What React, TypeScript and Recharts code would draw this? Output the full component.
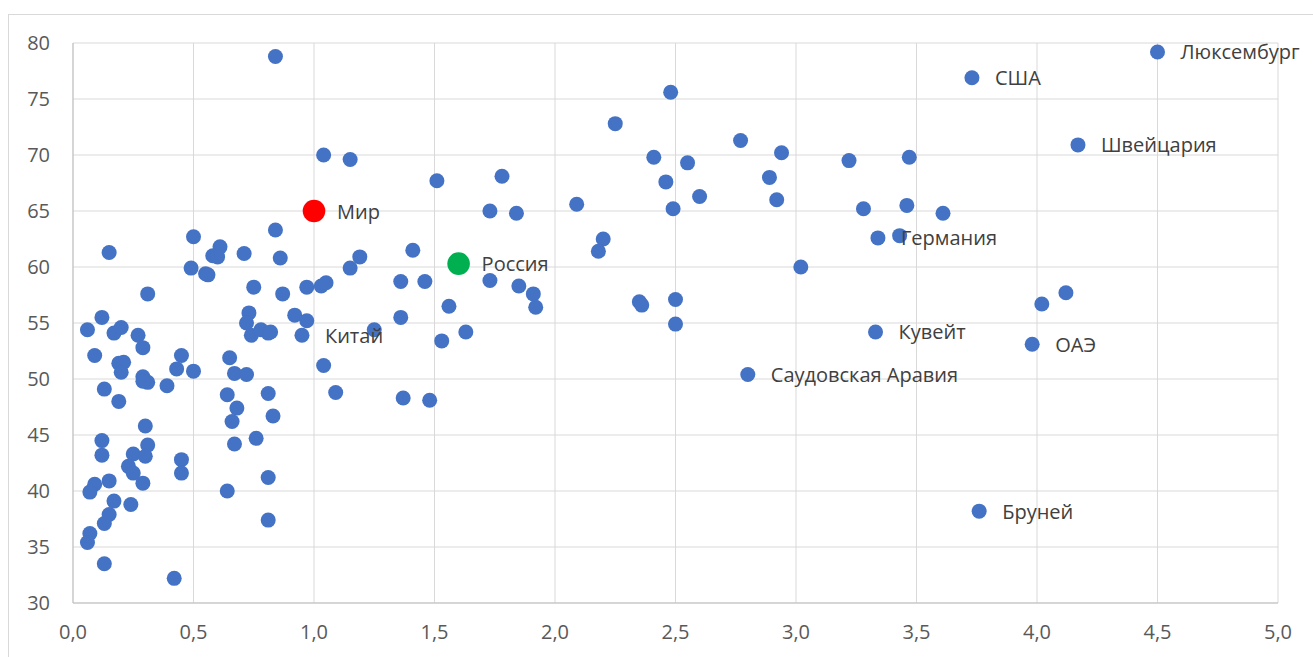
import React from 'react';
import { ScatterChart, Scatter, XAxis, YAxis, CartesianGrid } from 'recharts';

// unlabeled countries, [x, y]
const pointsLow: [number, number][] = [
  [0.15, 61.3], [0.49, 59.9], [0.31, 57.6], [0.12, 55.5], [0.06, 54.4], [0.17, 54.1],
  [0.2, 54.6], [0.27, 53.9], [0.29, 52.8], [0.09, 52.1], [0.19, 51.4], [0.21, 51.5],
  [0.2, 50.6], [0.45, 52.1], [0.43, 50.9], [0.29, 50.2], [0.31, 49.7], [0.29, 49.8],
  [0.13, 49.1], [0.19, 48.0], [0.39, 49.4], [0.42, 32.2], [0.3, 45.8], [0.12, 44.5],
  [0.12, 43.2], [0.25, 43.3], [0.31, 44.1], [0.3, 43.1], [0.23, 42.2], [0.25, 41.6],
  [0.45, 42.8], [0.45, 41.6], [0.09, 40.6], [0.07, 39.9], [0.15, 40.9], [0.29, 40.7],
  [0.17, 39.1], [0.24, 38.8], [0.15, 37.9], [0.13, 37.1], [0.07, 36.2], [0.06, 35.4],
  [0.13, 33.5],
];

const pointsMid: [number, number][] = [
  [0.84, 78.8], [1.04, 70.0], [1.15, 69.6], [0.84, 63.3], [0.5, 62.7], [0.61, 61.8],
  [0.58, 61.0], [0.6, 60.9], [0.71, 61.2], [0.86, 60.8], [1.19, 60.9], [1.41, 61.5],
  [0.55, 59.4], [0.56, 59.3], [1.15, 59.9], [0.75, 58.2], [0.87, 57.6], [0.97, 58.2],
  [1.03, 58.3], [1.05, 58.6], [1.36, 58.7], [1.46, 58.7], [0.73, 55.9], [0.72, 55.0],
  [0.92, 55.7], [0.97, 55.2], [1.36, 55.5], [1.25, 54.4], [0.74, 53.9], [0.78, 54.4],
  [0.81, 54.1], [0.82, 54.2], [0.5, 50.7], [0.65, 51.9], [0.67, 50.5], [0.72, 50.4],
  [0.64, 48.6], [0.81, 48.7], [0.68, 47.4], [0.83, 46.7], [0.66, 46.2], [0.76, 44.7],
  [0.67, 44.2], [0.64, 40.0], [0.81, 41.2], [0.81, 37.4], [1.04, 51.2], [1.09, 48.8],
  [1.37, 48.3], [1.48, 48.1],
];

const pointsHigh: [number, number][] = [
  [1.51, 67.7], [1.53, 53.4], [1.78, 68.1], [1.73, 65.0], [1.84, 64.8], [2.09, 65.6],
  [2.25, 72.8], [2.48, 75.6], [2.41, 69.8], [2.55, 69.3], [2.46, 67.6], [2.49, 65.2],
  [2.6, 66.3], [2.77, 71.3], [2.94, 70.2], [2.89, 68.0], [2.92, 66.0], [3.22, 69.5],
  [3.28, 65.2], [3.02, 60.0], [2.2, 62.5], [2.18, 61.4], [1.73, 58.8], [1.56, 56.5],
  [1.85, 58.3], [1.91, 57.6], [1.92, 56.4], [1.63, 54.2], [2.35, 56.9], [2.36, 56.6],
  [2.5, 57.1], [2.5, 54.9], [3.47, 69.8], [3.46, 65.5], [3.61, 64.8], [3.43, 62.8],
  [4.02, 56.7], [4.12, 57.7],
];

// labeled countries
const labelNames = ['Китай', 'Германия', 'США', 'Люксембург', 'Швейцария', 'Кувейт', 'ОАЭ', 'Бруней', 'Саудовская Аравия'];
const labelX = [0.95, 3.34, 3.73, 4.5, 4.17, 3.33, 3.98, 3.76, 2.8];
const labelY = [53.9, 62.6, 76.9, 79.2, 70.9, 54.2, 53.1, 38.2, 50.4];

const world = { name: 'Мир', x: 1.0, y: 65.0 };
const russia = { name: 'Россия', x: 1.6, y: 60.3 };

const xTicks = [0, 0.5, 1, 1.5, 2, 2.5, 3, 3.5, 4, 4.5, 5];
const yTicks = [30, 35, 40, 45, 50, 55, 60, 65, 70, 75, 80];

const plain = [...pointsLow, ...pointsMid, ...pointsHigh].map(([x, y]) => ({ x, y }));
const labeled = labelNames.map((name, i) => ({ name, x: labelX[i], y: labelY[i] }));

const FONT = '"Open Sans", "Noto Sans", sans-serif';

const dot = (r: number, fill: string, withLabel: boolean) => (props: any) => {
  const { cx, cy, payload } = props;
  return (
    <g>
      <circle cx={cx} cy={cy} r={r} fill={fill} />
      {withLabel && (
        <text x={cx + 23} y={cy} dominantBaseline="central" fontSize={20} fill="#404040" fontFamily={FONT}>
          {payload.name}
        </text>
      )}
    </g>
  );
};

const fmtX = (v: number) => v.toFixed(1).replace('.', ',');

export default function App() {
  return (
    <div style={{ position: 'absolute', left: 8, top: 14, width: 1330, height: 700, border: '1px solid #d9d9d9', background: '#fff' }}>
      <ScatterChart width={1320} height={660} margin={{ top: 28, right: 51, left: 0, bottom: 32 }}>
        <CartesianGrid stroke="#d9d9d9" strokeWidth={1} />
        <XAxis
          type="number"
          dataKey="x"
          domain={[0, 5]}
          ticks={xTicks}
          tickFormatter={fmtX}
          height={40}
          stroke="#bfbfbf"
          tickLine={false}
          tickSize={0}
          tickMargin={22}
          tick={{ fontSize: 20, fill: '#595959', fontFamily: FONT }}
        />
        <YAxis
          type="number"
          dataKey="y"
          domain={[30, 80]}
          ticks={yTicks}
          width={64}
          stroke="#bfbfbf"
          tickLine={false}
          tickSize={0}
          tickMargin={23}
          tick={{ fontSize: 20, fill: '#595959', fontFamily: FONT }}
        />
        <Scatter data={plain} fill="#4472c4" shape={dot(7.5, '#4472c4', false)} isAnimationActive={false} />
        <Scatter data={labeled} fill="#4472c4" shape={dot(7.5, '#4472c4', true)} isAnimationActive={false} />
        <Scatter data={[world]} fill="#ff0000" shape={dot(11.3, '#ff0000', true)} isAnimationActive={false} />
        <Scatter data={[russia]} fill="#00b050" shape={dot(11.3, '#00b050', true)} isAnimationActive={false} />
      </ScatterChart>
    </div>
  );
}
